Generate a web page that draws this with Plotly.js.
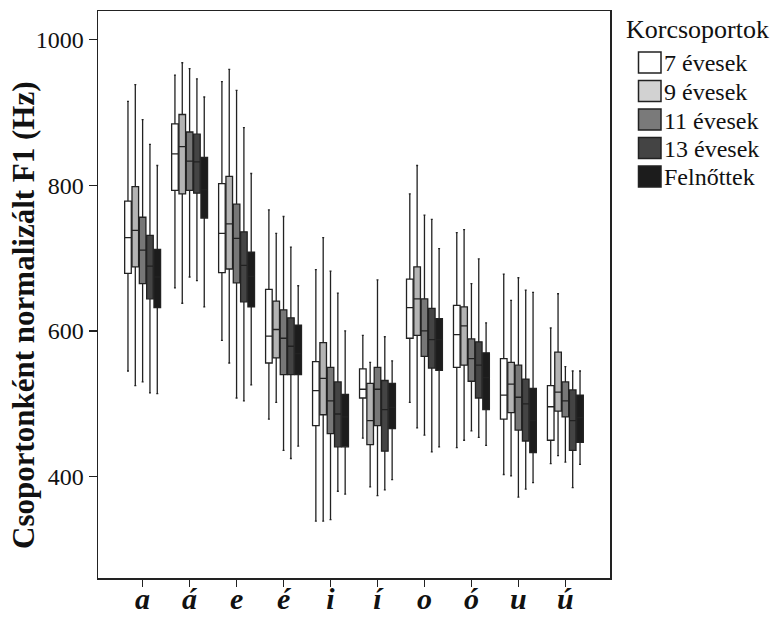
<!DOCTYPE html>
<html>
<head>
<meta charset="utf-8">
<script src="https://cdn.plot.ly/plotly-3.0.1.min.js"></script>
<style>html,body{margin:0;padding:0;background:#fff;}</style>
</head>
<body>
<div id="chart" style="width:774px;height:618px;"></div>
<script>
const categories = ['a', 'á', 'e', 'é', 'i', 'í', 'o', 'ó', 'u', 'ú'];
const groupNames = ['7 évesek', '9 évesek', '11 évesek', '13 évesek', 'Felnőttek'];
const legendTitle = 'Korcsoportok';
const yTitle = 'Csoportonként normalizált F1 (Hz)';
const yTicks = [400, 600, 800, 1000];

// 7 évesek
const upper7 = [915, 951, 942, 766, 684, 594, 788, 735, 678, 604];
const q3_7   = [778, 884, 802, 657, 558, 548, 671, 635, 562, 525];
const med7   = [728, 843, 734, 593, 518, 520, 632, 595, 512, 496];
const q1_7   = [679, 793, 680, 556, 470, 508, 590, 550, 479, 450];
const lower7 = [545, 659, 587, 479, 339, 453, 502, 440, 403, 418];

// 9 évesek
const upper9 = [938, 968, 959, 734, 728, 557, 827, 739, 642, 651];
const q3_9   = [798, 897, 812, 641, 584, 528, 688, 633, 557, 571];
const med9   = [738, 853, 747, 602, 535, 477, 644, 607, 527, 516];
const q1_9   = [688, 788, 685, 563, 485, 444, 594, 553, 488, 490];
const lower9 = [525, 638, 556, 502, 339, 386, 467, 450, 401, 429];

// 11 évesek
const upper11 = [890, 960, 930, 757, 682, 670, 759, 665, 673, 551];
const q3_11   = [756, 873, 774, 629, 550, 550, 644, 589, 553, 530];
const med11   = [711, 833, 727, 590, 504, 520, 600, 562, 509, 504];
const q1_11   = [665, 793, 666, 540, 459, 470, 565, 531, 464, 482];
const lower11 = [530, 674, 508, 436, 341, 374, 457, 463, 372, 420];

// 13 évesek
const upper13 = [856, 946, 879, 715, 652, 592, 753, 699, 656, 545];
const q3_13   = [731, 870, 736, 618, 530, 532, 631, 585, 534, 519];
const med13   = [689, 832, 690, 579, 486, 492, 588, 553, 500, 477];
const q1_13   = [644, 789, 640, 540, 441, 435, 549, 508, 449, 436];
const lower13 = [515, 669, 504, 425, 380, 382, 434, 454, 383, 385];

// Felnőttek
const upperF = [827, 921, 816, 662, 600, 559, 713, 611, 653, 545];
const q3_F   = [712, 838, 708, 608, 513, 528, 617, 570, 521, 512];
const medF   = [674, 794, 675, 569, 482, 495, 588, 536, 477, 481];
const q1_F   = [632, 755, 633, 540, 441, 466, 546, 492, 433, 447];
const lowerF = [514, 633, 526, 442, 376, 396, 441, 443, 392, 417];

const fills = ['#ffffff', '#b4b4b4', '#777777', '#444444', '#1c1c1c'];
const legendFills = ['#ffffff', '#d2d2d2', '#7a7a7a', '#444444', '#1c1c1c'];
const stats = [
  [q1_7, med7, q3_7, lower7, upper7],
  [q1_9, med9, q3_9, lower9, upper9],
  [q1_11, med11, q3_11, lower11, upper11],
  [q1_13, med13, q3_13, lower13, upper13],
  [q1_F, medF, q3_F, lowerF, upperF]
];

const traces = groupNames.map((name, i) => ({
  type: 'box',
  name: name,
  x: categories,
  q1: stats[i][0],
  median: stats[i][1],
  q3: stats[i][2],
  lowerfence: stats[i][3],
  upperfence: stats[i][4],
  boxpoints: false,
  fillcolor: fills[i],
  line: {color: '#222222', width: 1.3},
  whiskerwidth: 0.3,
  showlegend: false
}));

const serif = 'Liberation Serif, Times New Roman, serif';

// pixel -> paper helpers for the hand-drawn legend and title (plot area 98..610 x 11..578)
const M = {l: 98, r: 164, t: 11, b: 40};
const W = 774, H = 618;
const pw = W - M.l - M.r, ph = H - M.t - M.b;
const px = v => (v - M.l) / pw;
const py = v => (H - M.b - v) / ph;

const shapes = [];
const annotations = [{
  xref: 'paper', yref: 'paper', x: px(624), y: py(29),
  xanchor: 'left', yanchor: 'middle', showarrow: false,
  text: legendTitle, font: {family: serif, size: 26, color: '#111111'}
}, {
  xref: 'paper', yref: 'paper', x: px(23), y: py(315),
  xanchor: 'center', yanchor: 'middle', showarrow: false, textangle: -90,
  text: '<b>' + yTitle + '</b>', font: {family: serif, size: 31, color: '#111111'}
}];
groupNames.forEach((name, i) => {
  const cy = 62.5 + i * 28.5;
  shapes.push({
    type: 'rect', xref: 'paper', yref: 'paper',
    x0: px(638.5), x1: px(661), y0: py(cy - 10.5), y1: py(cy + 10.5),
    fillcolor: legendFills[i], line: {color: '#222222', width: 1.5}
  });
  annotations.push({
    xref: 'paper', yref: 'paper', x: px(662), y: py(cy + 1),
    xanchor: 'left', yanchor: 'middle', showarrow: false,
    text: name, font: {family: serif, size: 24, color: '#111111'}
  });
});

const layout = {
  width: W,
  height: H,
  margin: M,
  paper_bgcolor: '#ffffff',
  plot_bgcolor: '#ffffff',
  boxmode: 'group',
  boxgap: 0.22,
  boxgroupgap: 0.1,
  font: {family: serif, color: '#111111'},
  showlegend: false,
  xaxis: {
    type: 'category',
    range: [-0.95, 9.95],
    showgrid: false,
    zeroline: false,
    showline: true,
    mirror: true,
    linecolor: '#222222',
    linewidth: 1.5,
    ticks: 'outside',
    ticklen: 7,
    tickcolor: '#222222',
    tickwidth: 1.2,
    ticklabelstandoff: -14,
    tickfont: {family: serif, size: 30, weight: 'bold', style: 'italic', color: '#111111'}
  },
  yaxis: {
    range: [261, 1039],
    tickvals: yTicks,
    showgrid: false,
    zeroline: false,
    showline: true,
    mirror: true,
    linecolor: '#222222',
    linewidth: 1.5,
    ticks: 'outside',
    ticklen: 8,
    tickcolor: '#222222',
    tickwidth: 1.2,
    tickfont: {family: serif, size: 24, color: '#111111'}
  },
  shapes: shapes,
  annotations: annotations
};

Plotly.newPlot('chart', traces, layout, {displayModeBar: false, staticPlot: true});
</script>
</body>
</html>
